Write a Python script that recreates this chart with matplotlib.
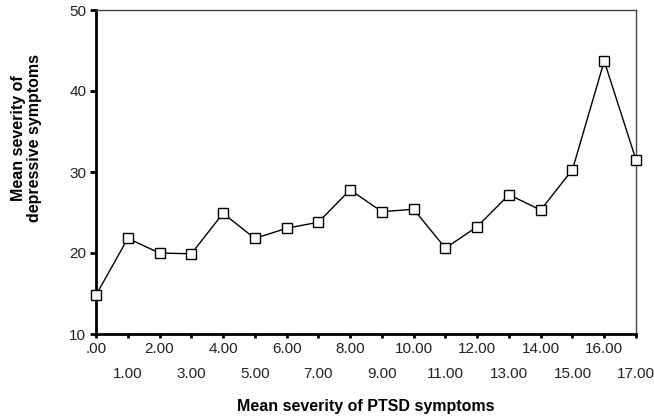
import matplotlib
matplotlib.use("Agg")
import matplotlib.pyplot as plt

plt.rcParams['font.family'] = ['Liberation Sans', 'DejaVu Sans']

ptsd = list(range(18))
depress = [14.8, 21.8, 20.0, 19.9, 24.9, 21.8, 23.05, 23.8, 27.8, 25.1,
           25.4, 20.6, 23.25, 27.2, 25.3, 30.3, 43.7, 31.5]
x_labels = ['.00', '1.00', '2.00', '3.00', '4.00', '5.00', '6.00', '7.00', '8.00',
            '9.00', '10.00', '11.00', '12.00', '13.00', '14.00', '15.00', '16.00', '17.00']
y_ticks = [10, 20, 30, 40, 50]

fig = plt.figure(figsize=(6.54, 4.18), dpi=100)
ax = fig.add_axes([96/654, 84/418, 540/654, 324/418])

ax.plot(ptsd, depress, color='black', linewidth=1.0, marker='s', markersize=7,
        markerfacecolor='white', markeredgecolor='black', markeredgewidth=1.0,
        clip_on=False, zorder=3)

ax.set_xlim(0, 17)
ax.set_ylim(10, 50)
even = [p for p in ptsd if p % 2 == 0]
odd = [p for p in ptsd if p % 2 == 1]
ax.set_xticks(even)
ax.set_xticklabels([x_labels[p] for p in even], fontsize=11)
ax.set_xticks(odd, minor=True)
ax.set_xticklabels([x_labels[p] for p in odd], minor=True, fontsize=11)
ax.set_yticks(y_ticks)
ax.set_yticklabels([str(v) for v in y_ticks], fontsize=11)

ax.spines['left'].set_linewidth(2.0)
ax.spines['bottom'].set_linewidth(2.0)
ax.spines['top'].set_linewidth(1.0)
ax.spines['right'].set_linewidth(1.0)
ax.spines['top'].set_color('#444444')
ax.spines['right'].set_color('#444444')

ax.tick_params(axis='x', which='major', length=3, width=2, pad=3,
               colors='black', labelcolor='#222222')
ax.tick_params(axis='x', which='minor', length=3, width=2, pad=21,
               colors='black', labelcolor='#222222')
ax.tick_params(axis='y', length=4, width=2, pad=3, colors='black', labelcolor='#222222')

ax.set_xlabel('Mean severity of PTSD symptoms', fontsize=11.5, fontweight='bold')
ax.xaxis.set_label_coords(0.5, -0.2)
ax.set_ylabel('Mean severity of\ndepressive symptoms', fontsize=11.5, fontweight='bold',
              linespacing=1.05)
ax.yaxis.set_label_coords(-0.10, 0.605)

fig.savefig('out.png', dpi=100)
